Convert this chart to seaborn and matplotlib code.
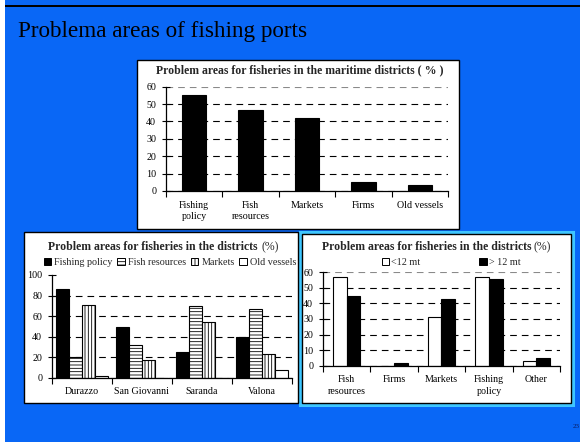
import numpy as np
import pandas as pd
import matplotlib
matplotlib.use("Agg")
import matplotlib.pyplot as plt
from matplotlib.patches import Rectangle, Patch
from matplotlib.ticker import FixedLocator, NullFormatter
import seaborn as sns

# Problem areas in the maritime districts (%)
maritime_areas = ["Fishing\npolicy", "Fish\nresources", "Markets", "Firms", "Old vessels"]
maritime_pct = [55, 46.5, 42, 5, 3.5]

# Problem areas by district (%)
districts = ["Durazzo", "San Giovanni", "Saranda", "Valona"]
district_areas = ["Fishing policy", "Fish resources", "Markets", "Old vessels"]
fishing_policy = [86, 49, 25, 40]
fish_resources = [20, 31.5, 70, 67]
markets = [71, 17.5, 54.5, 23.5]
old_vessels = [1.5, 0, 0, 7.5]

# Problem areas by vessel length (%)
length_areas = ["Fish\nresources", "Firms", "Markets", "Fishing\npolicy", "Other"]
length_classes = ["<12 mt", "> 12 mt"]
under_12 = [57, 0, 31.5, 57, 3]
over_12 = [44.5, 2, 43, 56, 5]

sns.set_theme(style="white")
plt.rcParams["font.family"] = ["Liberation Serif", "DejaVu Serif"]
plt.rcParams["hatch.linewidth"] = 0.6

W, H = 580, 442
BLUE = "#0967F6"
fig = plt.figure(figsize=(W / 100, H / 100), dpi=100, facecolor=BLUE)


def box(x0, y0, x1, y1):
    """Pixel box (top-left origin) -> figure-fraction rect."""
    return [x0 / W, 1 - y1 / H, (x1 - x0) / W, (y1 - y0) / H]


def fxy(x, y):
    return x / W, 1 - y / H


def panel(x0, y0, x1, y1, outer=None):
    if outer is not None:
        r = box(x0 - 2, y0 - 2, x1 + 2, y1 + 2)
        fig.add_artist(Rectangle((r[0], r[1]), r[2], r[3], transform=fig.transFigure,
                                 facecolor="none", edgecolor=outer, lw=2.2, zorder=0.4))
    r = box(x0, y0, x1, y1)
    fig.add_artist(Rectangle((r[0], r[1]), r[2], r[3], transform=fig.transFigure,
                             facecolor="white", edgecolor="black", lw=1.0, zorder=0.5))


# page frame: white margin strip and black top rule
fig.add_artist(Rectangle((0, 0), 5 / W, 1, transform=fig.transFigure,
                         facecolor="white", edgecolor="none", zorder=0.3))
fig.add_artist(Rectangle((5 / W, 1 - 7 / H), 1, 2 / H, transform=fig.transFigure,
                         facecolor="black", edgecolor="none", zorder=0.3))

fig.text(*fxy(18, 31), "Problema areas of fishing ports", fontsize=16.7,
         ha="left", va="center", color="black")
fig.text(*fxy(573, 427), "23", fontsize=5, ha="left", va="center", color="#0a1a5a")

panel(137, 60, 459, 229)
panel(24, 232, 298, 403)
panel(302, 234, 571, 403, outer="#3EC6FF")

TICK_FS = 7.2
TITLE_FS = 8.5


def style_axes(ax, ymax, step, top_color):
    ax.set_facecolor("none")
    ax.set_zorder(1)
    ax.set_ylim(0, ymax)
    ax.set_yticks(np.arange(0, ymax + 1, step))
    ax.set_xlabel("")
    ax.set_ylabel("")
    for s in ["top", "right"]:
        ax.spines[s].set_visible(False)
    for s in ["left", "bottom"]:
        ax.spines[s].set_color("black")
        ax.spines[s].set_linewidth(0.9)
    n = len(ax.get_xticks())
    ax.set_xlim(-0.5, n - 0.5)
    ax.xaxis.set_minor_locator(FixedLocator(np.arange(-0.5, n, 1.0)))
    ax.xaxis.set_minor_formatter(NullFormatter())
    ax.tick_params(axis="x", which="major", length=0, pad=7, labelsize=TICK_FS,
                   colors="black")
    ax.tick_params(axis="x", which="minor", bottom=True, direction="out", length=4,
                   width=0.8, color="black")
    ax.tick_params(axis="y", left=True, direction="inout", length=6, width=0.8,
                   pad=4, labelsize=TICK_FS, colors="black")
    ax.yaxis.grid(True, color="black", lw=0.8, linestyle=(0, (6, 4.5)))
    ax.xaxis.grid(False)
    ax.set_axisbelow(True)
    gl = ax.get_ygridlines()
    if top_color is None:
        gl[-1].set_visible(False)
    else:
        gl[-1].set_color(top_color)
    for lab in ax.get_xticklabels():
        lab.set_linespacing(1.35)


def split_title(x_end_bold, y, bold_text, unit_text):
    fig.text(*fxy(x_end_bold, y), bold_text, fontsize=TITLE_FS, fontweight="bold",
             ha="right", va="center")
    fig.text(*fxy(x_end_bold + 3, y), unit_text, fontsize=TITLE_FS,
             ha="left", va="center")


# Top chart: maritime districts
ax1 = fig.add_axes(box(166, 86.7, 448, 191))
df1 = pd.DataFrame({"area": maritime_areas, "pct": maritime_pct})
sns.barplot(data=df1, x="area", y="pct", color="black", saturation=1, width=0.43,
            edgecolor="black", linewidth=0.8, ax=ax1)
style_axes(ax1, 60, 10, "#8a8a8a")
fig.text(*fxy(300, 70), "Problem areas for fisheries in the maritime districts ( % )",
         fontsize=TITLE_FS, fontweight="bold", ha="center", va="center")

# Bottom-left chart: districts
ax2 = fig.add_axes(box(52, 275, 292, 377.7))
df2 = pd.DataFrame({
    "district": np.repeat(districts, len(district_areas)),
    "area": district_areas * len(districts),
    "pct": np.column_stack([fishing_policy, fish_resources, markets, old_vessels]).ravel(),
})
sns.barplot(data=df2, x="district", y="pct", hue="area", hue_order=district_areas,
            palette=["black", "white", "white", "white"], saturation=1, width=0.88,
            edgecolor="black", linewidth=0.8, legend=False, ax=ax2)
hatches = [None, "-----", "|||||", None]
for cont, h in zip(ax2.containers, hatches):
    for bar in cont:
        bar.set_hatch(h)
style_axes(ax2, 100, 20, None)
split_title(258, 247, "Problem areas for fisheries in the districts", "(%)")
handles2 = [Patch(facecolor=fc, edgecolor="black", hatch=h, lw=0.7)
            for fc, h in zip(["black", "white", "white", "white"], hatches)]
fig.legend(handles2, district_areas, loc="center", bbox_to_anchor=fxy(170, 262.5),
           ncol=4, frameon=False, fontsize=7.3, handlelength=0.75, handleheight=0.75,
           handletextpad=0.3, columnspacing=0.45, borderpad=0, borderaxespad=0)

# Bottom-right chart: vessel length
ax3 = fig.add_axes(box(323, 272.3, 560, 365.7))
df3 = pd.DataFrame({
    "area": np.repeat(length_areas, 2),
    "cls": length_classes * len(length_areas),
    "pct": np.column_stack([under_12, over_12]).ravel(),
})
sns.barplot(data=df3, x="area", y="pct", hue="cls", hue_order=length_classes,
            palette=["white", "black"], saturation=1, width=0.58,
            edgecolor="black", linewidth=0.8, legend=False, ax=ax3)
style_axes(ax3, 60, 10, "#8a8a8a")
split_title(531, 247.5, "Problem areas for fisheries in the districts", "(%)")
handles3 = [Patch(facecolor=fc, edgecolor="black", lw=0.7) for fc in ["white", "black"]]
fig.legend(handles3, length_classes, loc="center", bbox_to_anchor=fxy(451, 262.5),
           ncol=2, frameon=False, fontsize=7.3, handlelength=0.75, handleheight=0.75,
           handletextpad=0.2, columnspacing=5.8, borderpad=0, borderaxespad=0)

fig.savefig("out.png", dpi=100, facecolor=BLUE)
